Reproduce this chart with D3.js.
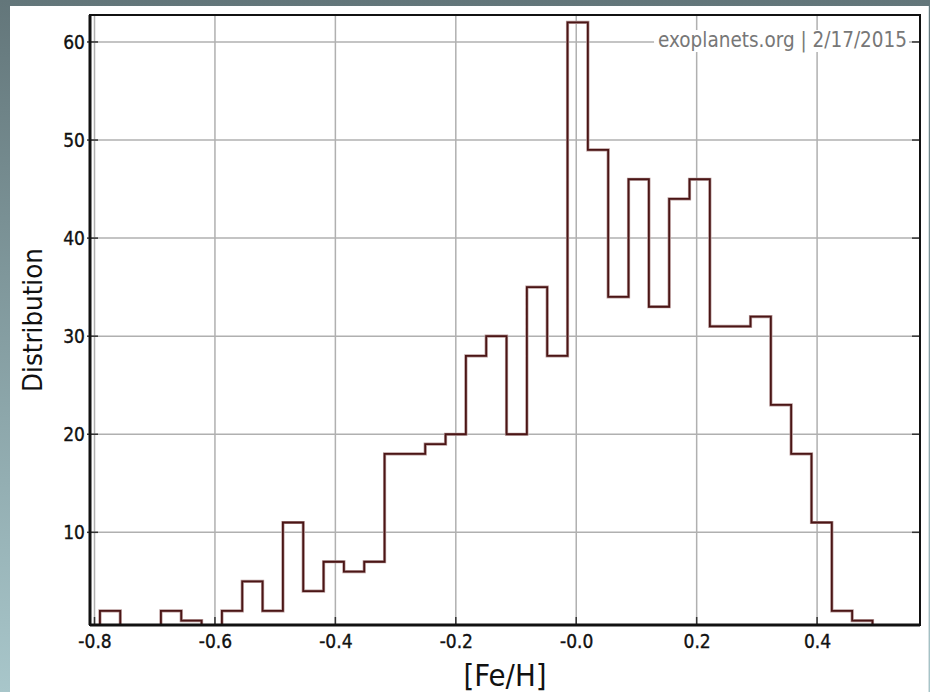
<!DOCTYPE html>
<html>
<head>
<meta charset="utf-8">
<script src="https://cdn.jsdelivr.net/npm/d3@7"></script>
<style>
  html, body { margin: 0; padding: 0; }
  body { width: 930px; height: 692px; overflow: hidden;
    background: linear-gradient(to bottom, #63767a 0%, #7f979b 40%, #a8c6ca 100%); }
  svg { display: block; }
</style>
</head>
<body>
<svg id="chart" width="930" height="692"></svg>
<script>
// ---- data ----
const counts = [2, 0, 0, 2, 1, 0, 2, 5, 2, 11, 4, 7, 6, 7, 18, 18, 19, 20, 28, 30,
                20, 35, 28, 62, 49, 34, 46, 33, 44, 46, 31, 31, 32, 23, 18, 11, 2, 1];
const binLow = -0.791;
const binHigh = 0.492;
const xTicks = [-0.8, -0.6, -0.4, -0.2, 0.0, 0.2, 0.4];
const xTickLabels = ["-0.8", "-0.6", "-0.4", "-0.2", "-0.0", "0.2", "0.4"];
const yTicks = [10, 20, 30, 40, 50, 60];
const xDomain = [-0.8075, 0.5709];
const yDomain = [0.55, 62.75];
const xLabel = "[Fe/H]";
const yLabel = "Distribution";
const watermark = "exoplanets.org | 2/17/2015";

// ---- layout ----
const svg = d3.select("#chart");
const L = 90, R = 920, T = 15, B = 625;
const x = d3.scaleLinear().domain(xDomain).range([L, R]);
const y = d3.scaleLinear().domain(yDomain).range([B, T]);

const font = "'DejaVu Sans Condensed', 'DejaVu Sans', Verdana, sans-serif";
function fit(sel, target) {
  const w = sel.node().getComputedTextLength();
  const fs = parseFloat(sel.attr("font-size"));
  sel.attr("font-size", (fs * target / w).toFixed(2));
  return sel;
}

// white panel
svg.append("rect").attr("x", 10).attr("y", 6).attr("width", 918).attr("height", 700)
  .attr("fill", "#ffffff");
svg.append("line").attr("x1", 928.5).attr("x2", 928.5).attr("y1", 6).attr("y2", 692)
  .attr("stroke", "#d8e2e4").attr("stroke-width", 1);

// clip
svg.append("defs").append("clipPath").attr("id", "plotclip")
  .append("rect").attr("x", L).attr("y", T).attr("width", R - L).attr("height", B - T);

// gridlines
const grid = svg.append("g");
grid.selectAll("line.vx").data(xTicks).join("line")
  .attr("x1", d => x(d)).attr("x2", d => x(d)).attr("y1", T).attr("y2", B)
  .attr("stroke", "#b0b0b0").attr("stroke-width", 1.5);
grid.selectAll("line.hy").data(yTicks).join("line")
  .attr("x1", L).attr("x2", R).attr("y1", d => y(d)).attr("y2", d => y(d))
  .attr("stroke", "#b0b0b0").attr("stroke-width", 1.5);

// watermark
const wm = svg.append("text").attr("x", 907).attr("y", 47).attr("text-anchor", "end")
  .attr("font-family", font).attr("font-size", 18).attr("fill", "#777777").text(watermark);
fit(wm, 249);
const bb = wm.node().getBBox();
svg.insert("rect", "text").attr("x", bb.x - 4).attr("y", bb.y + 2).attr("width", bb.width + 6)
  .attr("height", bb.height - 3).attr("fill", "#ffffff");

// histogram outline
const edges = d3.range(counts.length + 1).map(i => binLow + i * (binHigh - binLow) / counts.length);
const pts = [[edges[0], 0]];
counts.forEach((c, i) => { pts.push([edges[i], c]); pts.push([edges[i + 1], c]); });
pts.push([edges[counts.length], 0]);
const line = d3.line().x(d => x(d[0])).y(d => y(d[1]));
const g = svg.append("g").attr("clip-path", "url(#plotclip)");
g.append("path").attr("d", line(pts)).attr("fill", "none")
  .attr("stroke", "#b89a9a").attr("stroke-width", 3.2).attr("stroke-linejoin", "miter");
g.append("path").attr("d", line(pts)).attr("fill", "none")
  .attr("stroke", "#4a1515").attr("stroke-width", 1.8).attr("stroke-linejoin", "miter");

// axes
const xAxis = d3.axisBottom(x).tickValues(xTicks).tickSize(0).tickPadding(10)
  .tickFormat((d, i) => xTickLabels[i]);
const gx = svg.append("g").attr("transform", `translate(0,${B})`).call(xAxis);
gx.select(".domain").remove();
gx.selectAll("text").attr("font-family", font).attr("font-size", 19).attr("fill", "#111")
  .attr("stroke", "#111").attr("stroke-width", 0.35);

const yAxis = d3.axisLeft(y).tickValues(yTicks).tickSize(0).tickPadding(5);
const gy = svg.append("g").attr("transform", `translate(${L},0)`).call(yAxis);
gy.select(".domain").remove();
gy.selectAll("text").attr("font-family", font).attr("font-size", 19).attr("fill", "#111")
  .attr("stroke", "#111").attr("stroke-width", 0.35);

// tick marks
const tk = svg.append("g").attr("stroke", "#333").attr("stroke-width", 1.5);
tk.selectAll("line.bx").data(xTicks).join("line")
  .attr("x1", d => x(d)).attr("x2", d => x(d)).attr("y1", B - 8).attr("y2", B);
tk.selectAll("line.ly").data(yTicks).join("line")
  .attr("x1", L - 3).attr("x2", L + 8).attr("y1", d => y(d)).attr("y2", d => y(d));
tk.selectAll("line.ry").data(yTicks).join("line")
  .attr("x1", R - 8).attr("x2", R).attr("y1", d => y(d)).attr("y2", d => y(d));

// frame
svg.append("rect").attr("x", L).attr("y", T).attr("width", R - L).attr("height", B - T)
  .attr("fill", "none").attr("stroke", "#111").attr("stroke-width", 2);
svg.append("line").attr("x1", L).attr("x2", R).attr("y1", B).attr("y2", B)
  .attr("stroke", "#111").attr("stroke-width", 3);
svg.append("line").attr("x1", L).attr("x2", L).attr("y1", T).attr("y2", B)
  .attr("stroke", "#111").attr("stroke-width", 3);

// axis labels
const xl = svg.append("text").attr("x", 505).attr("y", 686).attr("text-anchor", "middle")
  .attr("font-family", font).attr("font-size", 28).attr("fill", "#111").text(xLabel);
fit(xl, 83);
const yl = svg.append("text").attr("transform", "translate(42,320) rotate(-90)").attr("text-anchor", "middle")
  .attr("font-family", font).attr("font-size", 26).attr("fill", "#111").text(yLabel);
fit(yl, 144);
</script>
</body>
</html>
